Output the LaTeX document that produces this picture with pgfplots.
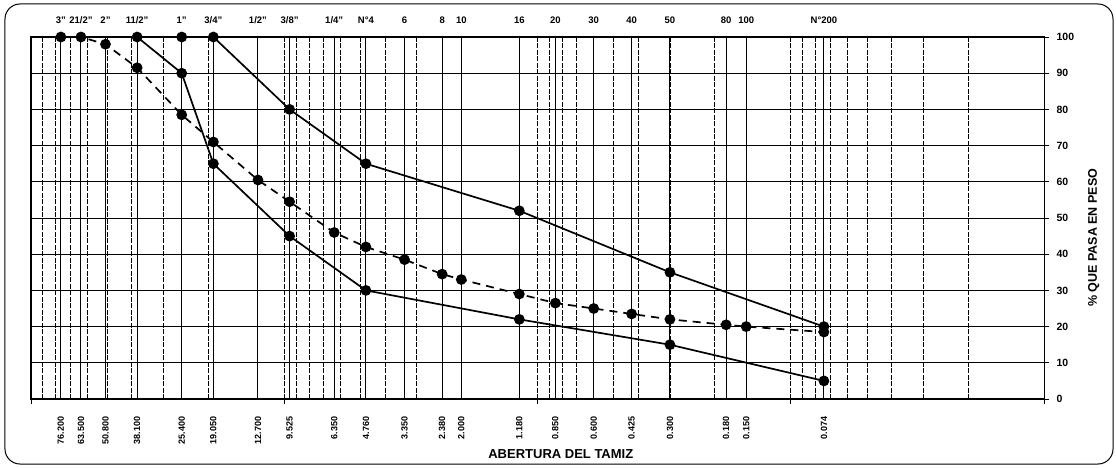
\documentclass[border=0pt]{standalone}
\usepackage{fontspec}
\setmainfont{Liberation Sans}
\usepackage{pgfplots}
\pgfplotsset{compat=1.18}
\begin{document}
\begin{tikzpicture}
\path[use as bounding box] (-31pt,-68pt) rectangle (1085pt,399pt);
\draw[line width=1pt, rounded corners=15pt] (-26pt,-65pt) rectangle (1082pt,395pt);
\begin{axis}[
  at={(0pt,0pt)}, anchor=south west,
  width=1013pt, height=362pt, scale only axis,
  xmode=log, x dir=reverse, xmin=0.01, xmax=100,
  ymin=0, ymax=100, clip=false,
  /pgf/number format/assume math mode=true,
  xtick={0.01,0.1,1,10,100}, xticklabels={},
  xtick pos=lower, tick align=outside,
  major tick length=5pt, minor tick length=0pt,
  ytick={0,10,...,100}, ytick pos=right, yticklabel pos=right,
  yticklabel style={font=\bfseries\fontsize{10.5}{12}\selectfont, anchor=west, xshift=4pt},
  xmajorgrids, xminorgrids, ymajorgrids,
  major x grid style={black, line width=0.6pt, dash pattern=on 5pt off 1.5pt},
  minor x grid style={black, line width=0.6pt, dash pattern=on 5pt off 1.5pt},
  major y grid style={black, line width=1pt},
  axis line style={line width=1.1pt},
  tick style={line width=0.9pt, black},
  extra x ticks={76.2,63.5,50.8,38.1,25.4,19.05,12.7,9.525,6.35,4.76,3.35,2.38,2.0,1.18,0.85,0.6,0.425,0.3,0.18,0.15,0.074},
  extra x tick labels={76.200,63.500,50.800,38.100,25.400,19.050,12.700,9.525,6.350,4.760,3.350,2.380,2.000,1.180,0.850,0.600,0.425,0.300,0.180,0.150,0.074},
  extra x tick style={grid=major, major tick length=0pt,
     major x grid style={black, solid, line width=1pt},
     xticklabel style={rotate=90, anchor=east, font=\bfseries\fontsize{9}{10}\selectfont},
     xticklabel shift=14pt},
  xlabel={\bfseries ABERTURA DEL TAMIZ},
  xlabel style={at={(axis description cs:0.523,-0.152)}, anchor=center, font=\fontsize{13}{15}\selectfont},
  ylabel={\bfseries \% QUE PASA EN PESO},
  ylabel style={at={(axis description cs:1.049,0.445)}, anchor=center, rotate=0, font=\fontsize{12.5}{15}\selectfont},
]
\addplot[black, line width=1.7pt, mark=*, mark size=4.5pt, mark options={solid}] coordinates {
 (25.4,100) (19.05,100) (9.525,80) (4.76,65) (1.18,52) (0.3,35) (0.074,20)};
\addplot[black, line width=1.7pt, mark=*, mark size=4.5pt, mark options={solid}] coordinates {
 (38.1,100) (25.4,90) (19.05,65) (9.525,45) (4.76,30) (1.18,22) (0.3,15) (0.074,5)};
\addplot[black, line width=1.7pt, dash pattern=on 8pt off 6pt, mark=*, mark size=4.5pt, mark options={solid}] coordinates {
 (76.2,100) (63.5,100) (50.8,98) (38.1,91.5) (25.4,78.5) (19.05,71) (12.7,60.5) (9.525,54.5) (6.35,46) (4.76,42) (3.35,38.5) (2.38,34.5) (2.0,33) (1.18,29) (0.85,26.5) (0.6,25) (0.425,23.5) (0.3,22) (0.18,20.5) (0.15,20) (0.074,18.5)};
\end{axis}
\begin{axis}[
  at={(0pt,0pt)}, anchor=south west,
  width=1013pt, height=362pt, scale only axis,
  xmode=log, x dir=reverse, xmin=0.01, xmax=100,
  ymin=0, ymax=100, ytick=\empty,
  axis line style={draw=none},
  xtick pos=upper, xticklabel pos=upper,
  major tick length=0pt, minor tick length=0pt,
  xtick={76.2,63.5,50.8,38.1,25.4,19.05,12.7,9.525,6.35,4.76,3.35,2.38,2.0,1.18,0.85,0.6,0.425,0.3,0.18,0.15,0.074},
  xticklabels={3",21/2",2",11/2",1",3/4",1/2",3/8",1/4",N°4,6,8,10,16,20,30,40,50,80,100,N°200},
  xticklabel style={font=\bfseries\fontsize{9.5}{10}\selectfont, anchor=south},
  xticklabel shift=10pt,
]
\end{axis}
\end{tikzpicture}
\end{document}
